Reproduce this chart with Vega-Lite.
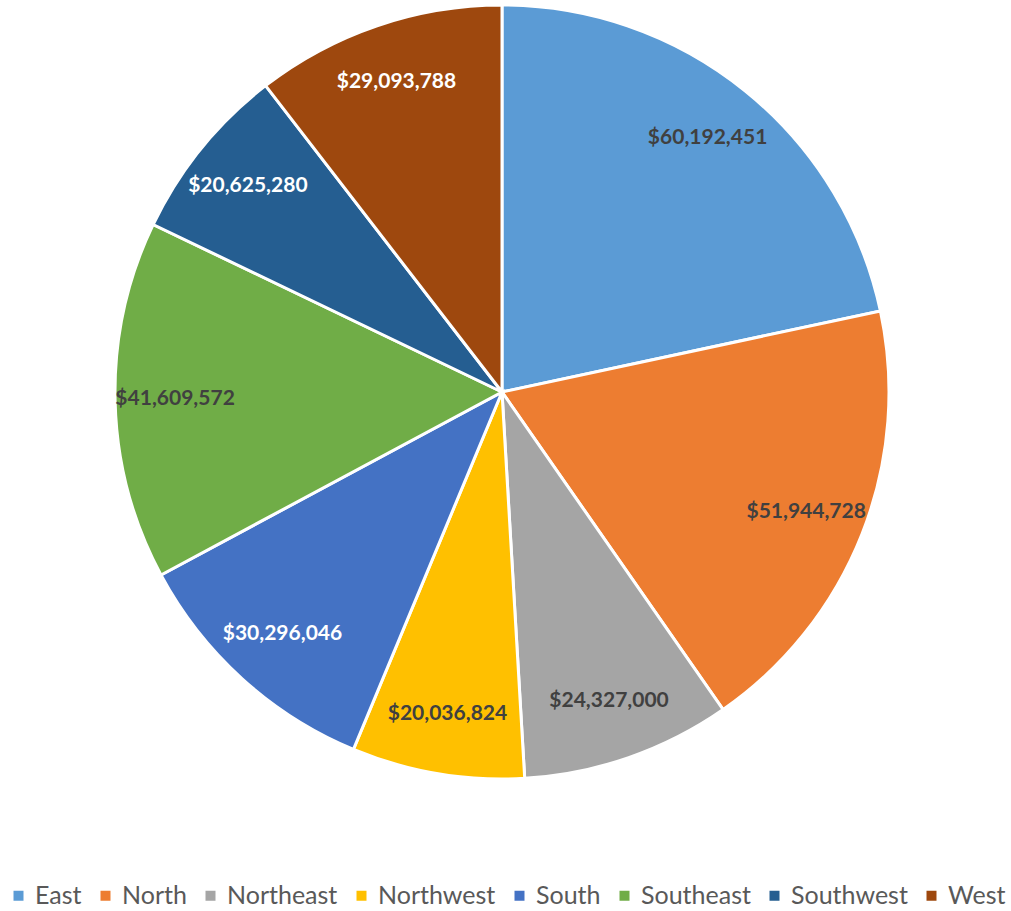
{
  "$schema": "https://vega.github.io/schema/vega-lite/v6.json",
  "width": 1004,
  "height": 784,
  "autosize": {"type": "none"},
  "padding": {"left": 0, "top": 0, "right": 7, "bottom": 127},
  "background": "white",
  "config": {"view": {"stroke": null}, "font": "Lato"},
  "data": {
    "values": [
      {"region": "East", "sales": 60192451},
      {"region": "North", "sales": 51944728},
      {"region": "Northeast", "sales": 24327000},
      {"region": "Northwest", "sales": 20036824},
      {"region": "South", "sales": 30296046},
      {"region": "Southeast", "sales": 41609572},
      {"region": "Southwest", "sales": 20625280},
      {"region": "West", "sales": 29093788}
    ]
  },
  "encoding": {
    "theta": {"field": "sales", "type": "quantitative", "stack": true},
    "order": {"field": "region", "type": "nominal", "sort": "ascending"}
  },
  "layer": [
    {
      "mark": {"type": "arc", "outerRadius": 387, "stroke": "white", "strokeWidth": 3},
      "encoding": {
        "color": {
          "field": "region",
          "type": "nominal",
          "scale": {
            "domain": ["East", "North", "Northeast", "Northwest", "South", "Southeast", "Southwest", "West"],
            "range": ["#5B9BD5", "#ED7D31", "#A5A5A5", "#FFC000", "#4472C4", "#70AD47", "#255E91", "#9E480E"]
          },
          "legend": {
            "title": null,
            "orient": "none",
            "direction": "horizontal",
            "columns": 8,
            "legendX": 6,
            "legendY": 883,
            "symbolType": "square",
            "symbolSize": 100,
            "symbolStrokeWidth": 0,
            "labelFont": "Lato",
            "labelFontSize": 25,
            "labelColor": "#595959",
            "labelOffset": 4,
            "columnPadding": 11
          }
        }
      }
    },
    {
      "mark": {"type": "text", "radius": 327, "font": "Lato", "fontWeight": "bold", "fontSize": 21},
      "encoding": {
        "text": {"field": "sales", "type": "quantitative", "format": "$,.0f"},
        "detail": {"field": "region", "type": "nominal"},
        "color": {
          "condition": {"test": "indexof(['South','Southwest','West'], datum.region) >= 0", "value": "white"},
          "value": "#404040"
        }
      }
    }
  ]
}
